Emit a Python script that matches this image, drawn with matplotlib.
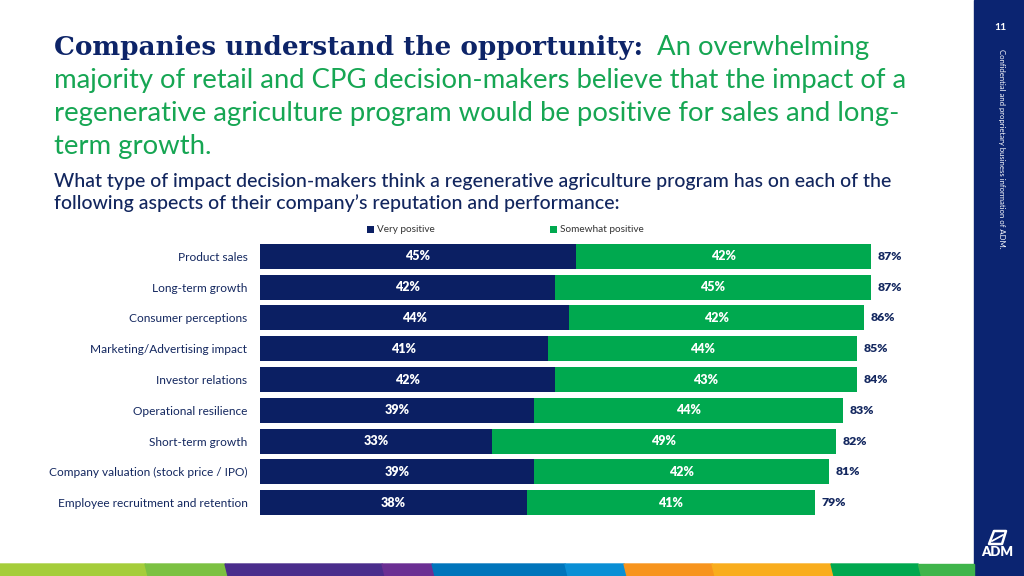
import matplotlib
matplotlib.use("Agg")
import matplotlib.pyplot as plt
from matplotlib.patches import Rectangle, Polygon
import numpy as np

categories = ['Product sales', 'Long-term growth', 'Consumer perceptions',
              'Marketing/Advertising impact', 'Investor relations',
              'Operational resilience', 'Short-term growth',
              'Company valuation (stock price / IPO)',
              'Employee recruitment and retention']
very_positive = [45, 42, 44, 41, 42, 39, 33, 39, 38]
somewhat_positive = [42, 45, 42, 44, 43, 44, 49, 42, 41]
totals = [87, 87, 86, 85, 84, 83, 82, 81, 79]
series_names = ['Very positive', 'Somewhat positive']

title_bold = 'Companies understand the opportunity:'
title_lines = ['An overwhelming',
               'majority of retail and CPG decision-makers believe that the impact of a',
               'regenerative agriculture program would be positive for sales and long-',
               'term growth.']
subtitle_lines = ['What type of impact decision-makers think a regenerative agriculture program has on each of the',
                  'following aspects of their company\u2019s reputation and performance:']

NAVY = '#0b1f63'
GREEN = '#00a94f'
TEXT_NAVY = '#13275f'
SIDEBAR = '#0b2471'
strip_colors = ['#a5cd3a', '#7cc142', '#4a2d8c', '#6b2f93', '#0075bb',
                '#0a8fd5', '#f7941d', '#f9ad1d', '#00a84f', '#3fb54b']
strip_edges = [0, 145, 225, 382, 432, 565, 624, 712, 831, 918, 974]

W, H = 1024, 576
fig = plt.figure(figsize=(W / 100, H / 100), dpi=100)
fig.patch.set_facecolor('white')
renderer = fig.canvas.get_renderer()


def fx(x):
    return x / W


def fy(y):
    return 1 - y / H


def fit_size(text, width_px, **kw):
    t = fig.text(0, 0, text, fontsize=10, **kw)
    w = t.get_window_extent(renderer).width
    t.remove()
    return 10 * width_px / w


# title
serif_kw = dict(family='DejaVu Serif', weight='bold', color='#0d2468')
s1 = fit_size(title_bold, 591, **serif_kw)
fig.text(fx(54), fy(55), title_bold, fontsize=s1, va='baseline', **serif_kw)

green_kw = dict(family='Lato', color='#16a653')
s2 = fit_size(title_lines[1], 853, **green_kw)
fig.text(fx(657), fy(55), title_lines[0], fontsize=s2, va='baseline', **green_kw)
for i, line in enumerate(title_lines[1:]):
    fig.text(fx(54), fy(88 + 33 * i), line, fontsize=s2, va='baseline', **green_kw)

sub_kw = dict(family='Lato', color='#12265e', weight='medium')
s3 = fit_size(subtitle_lines[0], 842, **sub_kw)
for i, line in enumerate(subtitle_lines):
    fig.text(fx(54), fy(187 + 22 * i), line, fontsize=s3, va='baseline', **sub_kw)

# chart
ax = fig.add_axes([fx(260), 58 / H, 702 / W, 277 / H])
y = np.arange(len(categories))
vp = np.array(very_positive)
sp = np.array(somewhat_positive)
b1 = ax.barh(y, vp, height=0.81, color=NAVY, label=series_names[0])
b2 = ax.barh(y, sp, left=vp, height=0.81, color=GREEN, label=series_names[1])
ax.set_xlim(0, 100)
ax.set_ylim(len(categories) - 0.5, -0.5)
ax.set_yticks(y)
ax.set_yticklabels(categories, family='Lato', fontsize=8.6, color=TEXT_NAVY)
ax.tick_params(axis='y', length=0, pad=9)
ax.set_xticks([])
for s in ax.spines.values():
    s.set_visible(False)

for i in range(len(categories)):
    ax.text(vp[i] / 2, i, '%d%%' % vp[i], ha='center', va='center',
            color='white', family='Lato', weight='heavy', fontsize=9)
    ax.text(vp[i] + sp[i] / 2, i, '%d%%' % sp[i], ha='center', va='center',
            color='white', family='Lato', weight='heavy', fontsize=9)
    ax.text(vp[i] + sp[i] + 1.0, i, '%d%%' % totals[i], ha='left', va='center',
            color=TEXT_NAVY, family='Lato', weight='heavy', fontsize=8.8)

leg = ax.legend(handles=[b1, b2], loc='center', bbox_to_anchor=(fx(505), fy(230)),
                bbox_transform=fig.transFigure, ncol=2, frameon=False,
                prop={'family': 'Lato', 'size': 7.2}, handlelength=0.7,
                handleheight=0.7, handletextpad=0.3, columnspacing=11.5)
for t in leg.get_texts():
    t.set_color('#333333')

# sidebar
fig.patches.append(Rectangle((fx(974), 0), 50 / W, 1, transform=fig.transFigure,
                             color=SIDEBAR, zorder=0))
fig.text(fx(1000), fy(28), '11', color='white', fontsize=7.5, weight='bold',
         family='Lato', ha='center', va='center')
fig.text(fx(1001), fy(49), 'Confidential and proprietary business information of ADM.',
         color='white', fontsize=5.6, family='Lato', rotation=-90,
         ha='center', va='top')

# ADM logo
leaf = Polygon([(fx(989), fy(544)), (fx(1002), fy(544)), (fx(1006), fy(531)),
                (fx(994), fy(531))], closed=True, fill=False, edgecolor='white',
               linewidth=1.8, transform=fig.transFigure, joinstyle='round')
fig.patches.append(leaf)
fig.lines.append(plt.Line2D([fx(992), fx(1003)], [fy(541), fy(535)], color='white',
                            linewidth=1.3, transform=fig.transFigure))
fig.text(fx(997), fy(552), 'ADM', color='white', fontsize=9.5, weight='heavy',
         family='Lato', ha='center', va='center')

# bottom colour strip
for i, c in enumerate(strip_colors):
    x0, x1 = strip_edges[i], strip_edges[i + 1]
    pts = [(fx(x0), fy(564)), (fx(x1), fy(564)), (fx(x1 + 3), 0), (fx(x0 + 3), 0)]
    if i == 0:
        pts[0] = (0, fy(564))
        pts[3] = (0, 0)
    if i == len(strip_colors) - 1:
        pts[1] = (fx(x1), fy(564))
        pts[2] = (fx(x1), 0)
    fig.patches.append(Polygon(pts, closed=True, color=c, transform=fig.transFigure,
                               zorder=1))

fig.savefig('out.png', dpi=100)
